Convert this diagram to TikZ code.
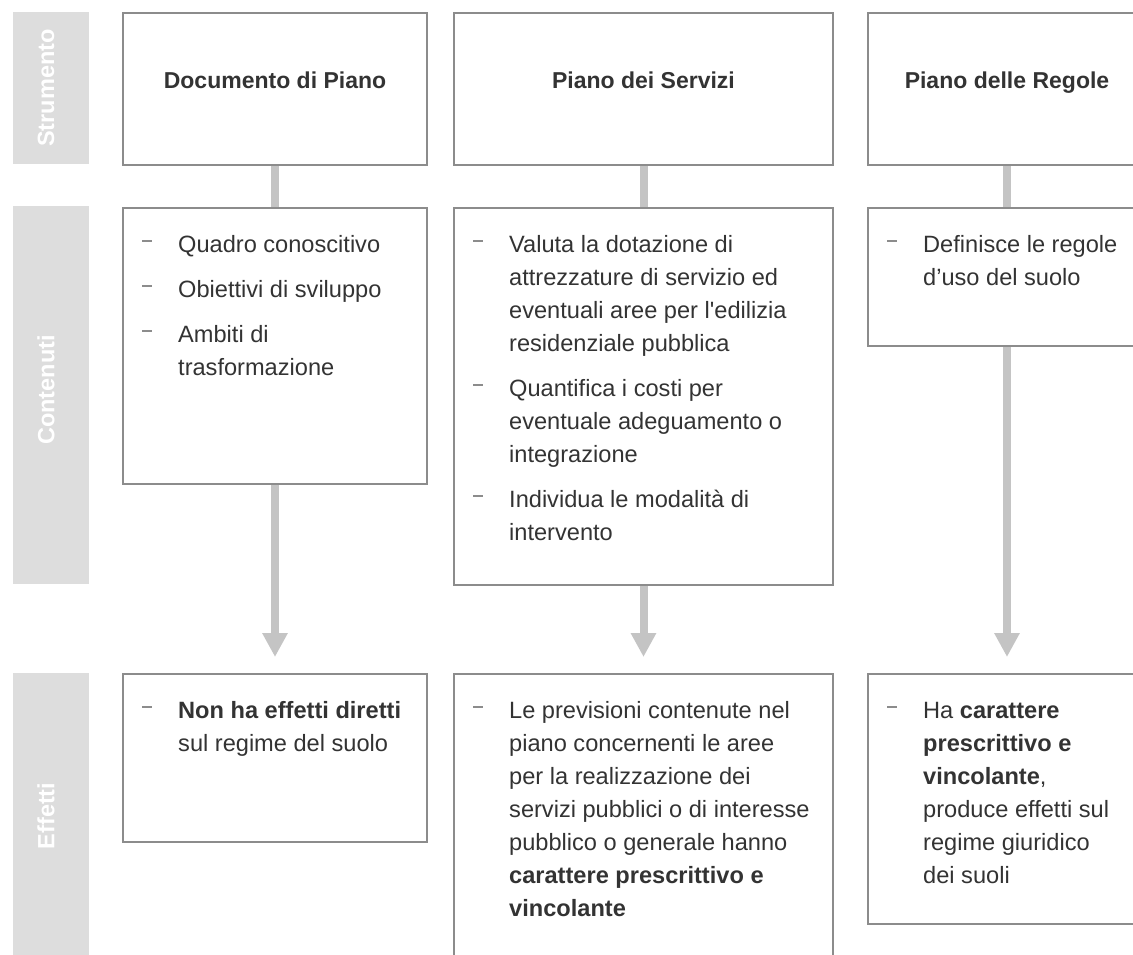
\documentclass[tikz,border=0pt]{standalone}
\usepackage{fontspec}
\setmainfont{Liberation Sans}
\usetikzlibrary{arrows.meta}

\definecolor{testo}{HTML}{333333}
\definecolor{bordo}{HTML}{8C8C8C}
\definecolor{fondo}{HTML}{DDDDDD}
\definecolor{freccia}{HTML}{C4C4C4}

\newcommand{\trattino}{\makebox[36pt][l]{\textcolor{bordo}{\rule[10pt]{10pt}{2pt}}}}
\newcommand{\voce}[1]{\par\noindent\hangindent=36pt\hangafter=1\trattino#1\par}
\newcommand{\elenco}[2]{\vtop{\hsize=#1\parindent=0pt\parskip=12pt\raggedright\fontsize{23.6}{33}\selectfont #2}}

\tikzset{
  riquadro/.style={draw=bordo, line width=2pt, anchor=north west, inner sep=0pt},
  fascia/.style={fill=fondo, anchor=north west, inner sep=0pt},
  etichetta/.style={rotate=90, text=white, font=\fontsize{23.5}{28}\selectfont\bfseries},
  titolo/.style={anchor=base, text=testo, font=\fontsize{23}{28}\selectfont\bfseries},
  inhalt/.style={anchor=base west, inner sep=0pt, text=testo},
  verbindung/.style={draw=freccia, line width=8pt},
  pfeil/.style={verbindung, -{Triangle[width=24pt,length=24pt]}, shorten >=16pt}
}

\begin{document}
\begin{tikzpicture}[x=1pt,y=-1pt]
\useasboundingbox (0,0) rectangle (1133,954);
\clip (0,0) rectangle (1133,954);

% fasce laterali
\node[fascia, minimum width=76, minimum height=152] (fStru) at (13,12) {};
\node[fascia, minimum width=76, minimum height=378] (fCont) at (13,206) {};
\node[fascia, minimum width=76, minimum height=320] (fEff) at (13,673) {};
\node[etichetta] (lStru) at (46,88) {Strumento};
\node[etichetta] (lCont) at (46,390) {Contenuti};
\node[etichetta] (lEff) at (46,816) {Effetti};

% riquadri
\foreach \nome/\x/\y/\w/\h in {doc/122/12/304/152, serv/453/12/379/152, reg/867/12/278/152,
    docC/122/207/304/276, servC/453/207/379/377, regC/867/207/278/138,
    docE/122/673/304/168, servE/453/673/379/320, regE/867/673/278/250}
  \node[riquadro, minimum width=\w, minimum height=\h] (\nome) at (\x,\y) {};

\node[titolo] (docT) at ([yshift=-76pt]doc.north) {Documento di Piano};
\node[titolo] (servT) at ([yshift=-76pt]serv.north) {Piano dei Servizi};
\node[titolo] (regT) at ([yshift=-76pt]reg.north) {Piano delle Regole};

\node[inhalt] (docCt) at ([shift={(20pt,-45pt)}]docC.north west) {\elenco{290pt}{%
  \voce{Quadro conoscitivo}
  \voce{Obiettivi di sviluppo}
  \voce{Ambiti di\newline trasformazione}}};
\node[inhalt] (servCt) at ([shift={(20pt,-45pt)}]servC.north west) {\elenco{360pt}{%
  \voce{Valuta la dotazione di\newline attrezzature di servizio ed\newline eventuali aree per l\textquotesingle edilizia\newline residenziale pubblica}
  \voce{Quantifica i costi per\newline eventuale adeguamento o\newline integrazione}
  \voce{Individua le modalità di\newline intervento}}};
\node[inhalt] (regCt) at ([shift={(20pt,-45pt)}]regC.north west) {\elenco{260pt}{%
  \voce{Definisce le regole\newline d’uso del suolo}}};

\node[inhalt] (docEt) at ([shift={(20pt,-45pt)}]docE.north west) {\elenco{290pt}{%
  \voce{\textbf{Non ha effetti diretti}\newline sul regime del suolo}}};
\node[inhalt] (servEt) at ([shift={(20pt,-45pt)}]servE.north west) {\elenco{360pt}{%
  \voce{Le previsioni contenute nel\newline piano concernenti le aree\newline per la realizzazione dei\newline servizi pubblici o di interesse\newline pubblico o generale hanno\newline \textbf{carattere prescrittivo e}\newline \textbf{vincolante}}}};
\node[inhalt] (regEt) at ([shift={(20pt,-45pt)}]regE.north west) {\elenco{260pt}{%
  \voce{Ha \textbf{carattere}\newline \textbf{prescrittivo e}\newline \textbf{vincolante},\newline produce effetti sul\newline regime giuridico\newline dei suoli}}};

% collegamenti
\foreach \a/\b in {doc/docC, serv/servC, reg/regC}
  \draw[verbindung] (\a) -- (\b);
\foreach \a/\b in {docC/docE, servC/servE, regC/regE}
  \draw[pfeil] (\a) -- (\b);
\end{tikzpicture}
\end{document}
